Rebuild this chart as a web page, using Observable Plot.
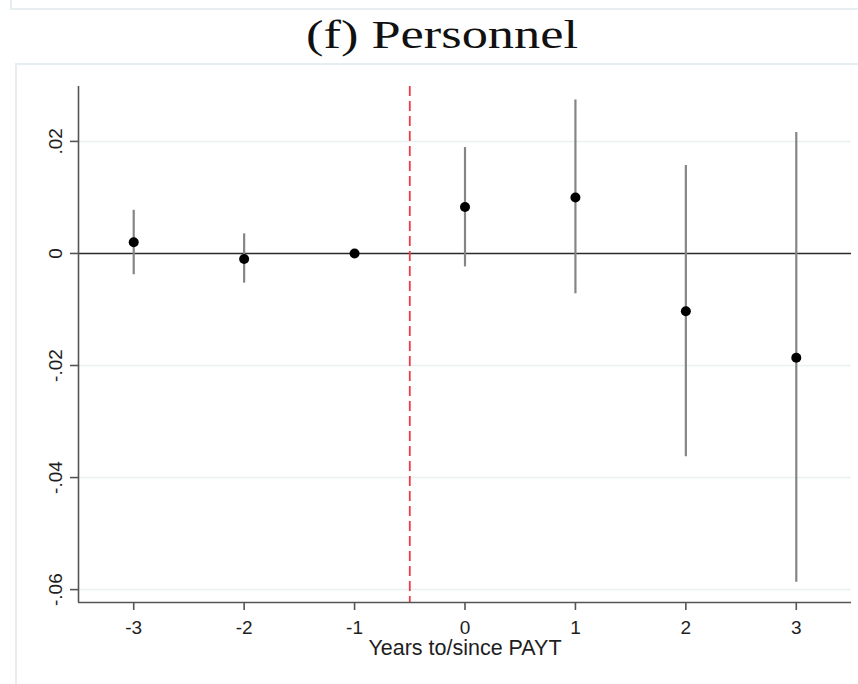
<!DOCTYPE html>
<html>
<head>
<meta charset="utf-8">
<script src="https://cdn.jsdelivr.net/npm/d3@7"></script>
<script src="https://cdn.jsdelivr.net/npm/@observablehq/plot@0.6"></script>
<style>
  html, body { margin: 0; padding: 0; background: #fff; }
  body { width: 858px; height: 684px; position: relative; overflow: hidden; }
  #topbox { position: absolute; left: 10px; top: -20px; width: 900px; height: 26px; border: 2px solid #e6eef1; }
  #frame { position: absolute; left: 15px; top: 63px; width: 900px; height: 700px; border: 2px solid #e6eef1; pointer-events: none; z-index: 2; }
  #title { position: absolute; top: 11px; left: 0; white-space: nowrap; font-family: "Liberation Serif", serif; font-size: 40px; line-height: normal; color: #111; transform-origin: left top; }
  #chart { position: absolute; left: 0; top: 63px; }
  #chart svg text { font-size: 19px; }
  #xlabel { position: absolute; top: 635px; left: 0; width: 930px; text-align: center; font-family: "Liberation Sans", Arial, sans-serif; font-size: 21.5px; line-height: 26px; color: #1e1e1e; }
</style>
</head>
<body>
<div id="topbox"></div>
<div id="title"></div>
<div id="chart"></div>
<div id="xlabel"></div>
<div id="frame"></div>
<script>
const years = [-3, -2, -1, 0, 1, 2, 3];
const coef = [0.0020, -0.0010, 0.0000, 0.0083, 0.0100, -0.0103, -0.0186];
const ciLow = [-0.0038, -0.0053, 0.0000, -0.0024, -0.0072, -0.0363, -0.0587];
const ciHigh = [0.0077, 0.0035, 0.0000, 0.0189, 0.0274, 0.0157, 0.0216];
const xTicks = [-3, -2, -1, 0, 1, 2, 3];
const xTickLabels = ["-3", "-2", "-1", "0", "1", "2", "3"];
const yTicks = [0.02, 0, -0.02, -0.04, -0.06];
const yTickLabels = [".02", "0", "-.02", "-.04", "-.06"];
const xDomain = [-3.5, 3.5];
const yDomain = [-0.0623, 0.0298];
const treatmentLine = -0.5;
const xLabel = "Years to/since PAYT";
const titleText = "(f) Personnel";

const data = years.map((y, i) => ({year: y, coef: coef[i], lo: ciLow[i], hi: ciHigh[i]}));
const ciData = data.filter(d => d.hi !== d.lo);
const gridTicks = yTicks.filter(v => v !== 0);

const font = "Liberation Sans, Arial, sans-serif";

const chart = Plot.plot({
  width: 858,
  height: 621,
  marginTop: 23,
  marginBottom: 82,
  marginLeft: 78,
  marginRight: 7,
  style: {background: "transparent", fontFamily: font, fontSize: "19px", color: "#1e1e1e", overflow: "visible"},
  x: {domain: xDomain},
  y: {domain: yDomain},
  marks: [
    Plot.ruleY(gridTicks, {stroke: "#e9f1f3", strokeWidth: 1.5}),
    Plot.ruleY([0], {stroke: "#2a2a2a", strokeWidth: 1.6}),
    Plot.ruleX([treatmentLine], {stroke: "#f03a45", strokeWidth: 1.8, strokeDasharray: "10,5"}),
    Plot.ruleX(ciData, {x: "year", y1: "lo", y2: "hi", stroke: "#858585", strokeWidth: 2.2}),
    Plot.dot(data, {x: "year", y: "coef", r: 5, fill: "#000", stroke: "none"}),
    Plot.ruleX([xDomain[0]], {stroke: "#555", strokeWidth: 1.6}),
    Plot.ruleY([yDomain[0]], {stroke: "#555", strokeWidth: 1.6}),
    Plot.axisX({
      ticks: xTicks,
      tickFormat: d => xTickLabels[xTicks.indexOf(d)],
      tickSize: 8,
      tickPadding: 10,
      stroke: "#555",
      strokeWidth: 1.6,
      fontSize: 19,
      label: null
    }),
    Plot.axisY({
      ticks: yTicks,
      tickFormat: d => yTickLabels[yTicks.indexOf(d)],
      tickSize: 8,
      tickPadding: 9,
      tickRotate: -90,
      stroke: "#555",
      strokeWidth: 1.6,
      fontSize: 19,
      label: null
    })
  ]
});
document.getElementById("chart").appendChild(chart);
document.getElementById("xlabel").textContent = xLabel;

// title sized to the reference's horizontal extent
const t = document.getElementById("title");
t.textContent = titleText;
const w = t.getBoundingClientRect().width;
const targetW = 272, centerX = 442;
t.style.transform = `scaleX(${targetW / w})`;
t.style.left = (centerX - targetW / 2) + "px";
</script>
</body>
</html>
